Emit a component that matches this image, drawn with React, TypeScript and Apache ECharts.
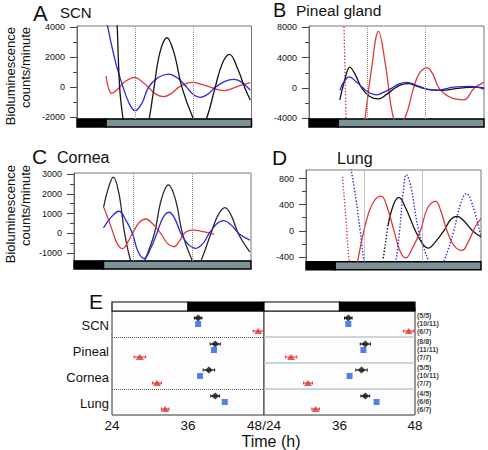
import React, { useEffect, useRef } from 'react';
import * as echarts from 'echarts';

const FONT = '"Liberation Sans", Arial, Helvetica, sans-serif';

// ---------- Panels A–D: time (h) vs bioluminescence (counts/minute) ----------
// Panel A – SCN
const scnBlack = [[15.8, 6500], [16.6, 4000], [17.6, 0], [18.9, -2000], [21, -4500], [24, -5800], [27, -4500], [29.9, -2000], [31.8, 0], [34.2, 2300], [37.1, 3290], [40, 2300], [43.3, 0], [47.8, -2000], [50.7, -2800], [53.6, -2000], [57, 0], [60, 1600], [62.9, 2190], [66.5, 1150], [69.3, -65], [71.5, -840]];
const scnBlue = [[12.2, 4400], [15.7, 1810], [18.9, 60], [21.5, -1050], [24, -1550], [26.8, -1050], [29.5, 0], [33.5, 650], [37.7, 880], [41.5, 620], [45.3, 0], [48, -480], [50.8, -660], [54, -450], [57, 0], [61, 400], [64.6, 530], [67.6, 380], [71.5, -180]];
const scnRed = [[12, 750], [12.9, 0], [14.3, -400], [16.4, -180], [20, 400], [24, 660], [27, 350], [29.5, 0], [32.5, -450], [35.7, -620], [39, -400], [41.9, 0], [45, 250], [47.8, 330], [51, 220], [55, 20], [58, -150], [61, -220], [64.5, -50], [68, 160], [71.5, 310]];
// Panel B – Pineal gland
const pinealBlack = [[12.7, -1550], [14.5, 800], [16.8, 2750], [19, 1800], [21.7, 0], [25, -1100], [28.6, -1420], [32, -800], [35.4, 0], [38, 450], [41, 580], [44, 300], [47.2, -50], [51, -250], [55.4, -300], [59, -150], [62.3, 0], [66, 100], [69.2, 130], [72, 0]];
const pinealBlue = [[12.7, -300], [14.5, 900], [16.6, 1470], [19.5, 800], [22.3, 0], [25, -650], [27.9, -890], [31, -500], [34.1, 0], [37, 550], [40.3, 750], [44, 400], [47.2, 0], [50, -250], [52.7, -300], [56, -100], [59.6, 130], [66.5, 220], [72, -130]];
const pinealRedStart = [[14.2, 11000], [15.4, -6000]];
const pinealRed = [[15.4, -6000], [18, -10000], [21, -8000], [23, -4100], [25.5, 2000], [28.6, 7460], [31.5, 3000], [34.8, -4000], [37.5, -4600], [40, -3500], [43, 0], [45.5, 2000], [48.6, 2660], [51, 1800], [53.5, 0], [58, -1200], [63.7, -1550], [68, 0], [72, 750]];
// Panel C – Cornea
const corneaBlack = [[12, 1300], [14, 2300], [16, 2840], [18.3, 2000], [20.6, 0], [23.1, -1400], [25.9, -2200], [28.7, -1400], [32.7, 0], [35.5, 1700], [38.4, 2450], [41.3, 1700], [44.1, 0], [48.2, -1400], [50, -1700], [51.6, -1400], [55.7, 0], [58.5, 900], [61.4, 1300], [64, 900], [66.8, 0], [71.5, -930]];
const corneaBlue = [[12, 280], [15, 800], [18.3, 1120], [21, 700], [23.8, 0], [26, -900], [28.5, -1270], [31, -800], [33.7, 0], [36.2, 800], [38.7, 1070], [41, 750], [43.5, 0], [46.5, -550], [49.6, -750], [52.5, -500], [55, 0], [58, 480], [60.8, 650], [64, 420], [67, 0], [71.5, -340]];
const corneaRed = [[12.2, 1290], [14, 700], [16, 0], [17.5, -500], [19.7, -770], [21.8, -450], [23.8, 0], [26.5, 550], [29.2, 730], [32.3, 450], [35.3, 0], [38, -500], [40.7, -670], [42.8, -400], [44.8, 0], [46.5, 130], [48.6, 170], [51.5, 120], [54, 50], [57, -50]];
// Panel D – Lung
const lungBlackStart = [[31.8, -420], [33.7, 75]];
const lungBlack = [[33.7, 75], [36, 400], [38.2, 510], [41, 350], [45, 0], [48, -200], [50.3, -265], [53, -180], [56.7, 0], [59.5, 170], [62.2, 220], [65, 150], [68.5, 0], [72, -95]];
const lungBlue = [[18.5, 950], [20.5, 500], [22.3, 0], [23.9, -470], [27, -1000], [31, -1200], [34, -900], [36.9, -470], [38.5, 0], [40, 600], [41.3, 860], [43, 700], [46.4, 0], [50.5, -470], [53.5, -700], [56.7, -470], [60.8, 0], [63.5, 400], [66, 570], [68.5, 400], [72, -90]];
const lungRedStart = [[15, 830], [16.4, 200], [17.8, -470], [19.5, -800]];
const lungRed = [[19.5, -800], [21.2, -470], [23.5, -50], [26, 300], [28.5, 480], [31, 530], [33.5, 350], [36.2, 0], [38.6, -300], [41, -415], [44, -250], [47.1, 0], [50, 350], [53.3, 455], [55.5, 300], [58, 0], [61, -230], [64.2, -300], [67, -150], [69.5, 50], [72, 190]];

const hourRange = [0, 72];
const dottedHours = [24, 48];
const ldPhases = [[0, 12, 1], [12, 72, 0]]; // [start, end, dark]

const ticksA = { majors: [-2000, 0, 2000, 4000], minors: [-1000, 1000, 3000], min: -2100, max: 4070 };
const ticksB = { majors: [-4000, 0, 4000, 8000], minors: [-2000, 2000, 6000], min: -4070, max: 8170 };
const ticksC = { majors: [-1000, 0, 1000, 2000, 3000], minors: [-500, 500, 1500, 2500], min: -1390, max: 3050 };
const ticksD = { majors: [-400, 0, 400, 800], minors: [-200, 200, 600], min: -472, max: 930 };

// ---------- Panel E: peak phases ----------
const tissues = ['SCN', 'Pineal', 'Cornea', 'Lung'];
const eHours = [24, 48];
const eLdPhases = [[24, 36, 0], [36, 48, 1]];
const leftBlack = [37.6, 40.3, 39.3, 40.3];
const leftBlackErr = [0.6, 0.8, 0.9, 0.7];
const leftBlue = [37.6, 40.1, 37.9, 41.8];
const leftRed = [47.1, 28.4, 31.1, 32.4];
const leftRedErr = [0.8, 0.9, 0.7, 0.6];
const rightBlack = [37.4, 40.1, 39.5, 40.1];
const rightBlackErr = [0.6, 0.8, 0.9, 0.7];
const rightBlue = [37.4, 39.8, 37.6, 41.9];
const rightRed = [47.0, 28.3, 31.0, 32.2];
const rightRedErr = [0.8, 0.9, 0.7, 0.6];
const nCounts = [
  ['(5/5)', '(10/11)', '(6/7)'],
  ['(8/8)', '(11/11)', '(7/7)'],
  ['(5/5)', '(10/11)', '(7/7)'],
  ['(4/5)', '(6/6)', '(6/7)'],
];

const BLACK = '#141414';
const BLUE = '#2a2ad6';
const RED = '#e0383a';
const E_BLUE = '#2362e2';
const E_RED = '#e4302e';
const LIGHT_BAR = '#7b9396';

function buildOption() {
  const grid: any[] = [];
  const xAxis: any[] = [];
  const yAxis: any[] = [];
  const series: any[] = [];

  const ldRender = (phases: number[][], lightFill: string, lw: number) => (params: any, api: any) => {
    const s = api.value(0), e = api.value(1);
    const dark = phases[params.dataIndex][2];
    const p0 = api.coord([s, 1]);
    const p1 = api.coord([e, 0]);
    return {
      type: 'rect',
      shape: { x: p0[0], y: p0[1], width: p1[0] - p0[0], height: p1[1] - p0[1] },
      style: { fill: dark ? '#000' : lightFill, stroke: '#000', lineWidth: lw },
    };
  };

  const panels = [
    { left: 77, top: 26, width: 174.5, height: 93, t: ticksA, lines: [[scnRed, RED, false], [scnBlue, BLUE, false], [scnBlack, BLACK, false]] },
    { left: 309, top: 26, width: 175, height: 93, t: ticksB, lines: [[pinealRed, RED, false], [pinealRedStart, RED, true], [pinealBlack, BLACK, false], [pinealBlue, BLUE, false]] },
    { left: 74, top: 173, width: 177, height: 88, t: ticksC, lines: [[corneaBlack, '#2a2a2a', false], [corneaRed, RED, false], [corneaBlue, BLUE, false]] },
    { left: 306, top: 170, width: 175, height: 91.7, t: ticksD, lines: [[lungBlack, BLACK, false], [lungBlackStart, BLACK, true], [lungRed, RED, false], [lungRedStart, RED, true], [lungBlue, BLUE, true]] },
  ];

  panels.forEach((p) => {
    const gi = grid.length;
    grid.push({ left: p.left, top: p.top, width: p.width, height: p.height, show: true, borderColor: '#777', borderWidth: 1, backgroundColor: 'transparent' });
    const xi = xAxis.length;
    xAxis.push({ type: 'value', gridIndex: gi, min: hourRange[0], max: hourRange[1], show: false });
    const yi = yAxis.length;
    yAxis.push({
      type: 'value', gridIndex: gi, min: p.t.min, max: p.t.max, position: 'left',
      axisLine: { show: true, lineStyle: { color: '#666', width: 1 } },
      axisTick: { show: true, length: 7, customValues: p.t.majors, lineStyle: { color: '#444' } },
      axisLabel: { customValues: p.t.majors, fontSize: 9, margin: 12, color: '#111', fontFamily: FONT, formatter: (v: number) => String(v) },
      splitLine: { show: false },
    });
    yAxis.push({
      type: 'value', gridIndex: gi, min: p.t.min, max: p.t.max, position: 'left', offset: 0,
      axisLine: { show: false },
      axisTick: { show: true, length: 4, customValues: p.t.minors, lineStyle: { color: '#444' } },
      axisLabel: { show: false },
      splitLine: { show: false },
    });
    p.lines.forEach(([data, color, dotted]: any, k: number) => {
      series.push({
        type: 'line', xAxisIndex: xi, yAxisIndex: yi, data, showSymbol: false, smooth: 0.4,
        clip: true, silent: true, lineStyle: { color, width: dotted ? 1.4 : 1.3, type: dotted ? [1.4, 1.8] : 'solid' },
        markLine: k === 0 ? {
          silent: true, symbol: 'none', label: { show: false },
          lineStyle: { type: 'dotted', color: '#8a8a8a', width: 1 },
          data: dottedHours.map((h) => ({ xAxis: h })),
        } : undefined,
      });
    });
    // light/dark bar under the plot
    const bgi = grid.length;
    grid.push({ left: p.left, top: p.top + p.height, width: p.width, height: 8, show: false });
    const bxi = xAxis.length;
    xAxis.push({ type: 'value', gridIndex: bgi, min: hourRange[0], max: hourRange[1], show: false });
    const byi = yAxis.length;
    yAxis.push({ type: 'value', gridIndex: bgi, min: 0, max: 1, show: false });
    series.push({
      type: 'custom', xAxisIndex: bxi, yAxisIndex: byi, silent: true,
      data: ldPhases.map((d) => [d[0], d[1], d[2]]),
      renderItem: ldRender(ldPhases, LIGHT_BAR, 1.5),
    });
  });

  // ---------- Panel E ----------
  const halves = [
    { left: 112, width: 152, black: leftBlack, blackErr: leftBlackErr, blue: leftBlue, red: leftRed, redErr: leftRedErr, isLeft: true },
    { left: 264, width: 151, black: rightBlack, blackErr: rightBlackErr, blue: rightBlue, red: rightRed, redErr: rightRedErr, isLeft: false },
  ];
  const eTop = 311, eHeight = 104;
  const ROW_BLACK = 0.27, ROW_BLUE = 0.5, ROW_RED = 0.77;
  const errRender = (color: string) => (params: any, api: any) => {
    const x = api.value(0), y = api.value(1), e = api.value(2);
    const a = api.coord([x - e, y]);
    const b = api.coord([x + e, y]);
    const st = { stroke: color, lineWidth: 1 };
    return {
      type: 'group', children: [
        { type: 'line', shape: { x1: a[0], y1: a[1], x2: b[0], y2: b[1] }, style: st },
        { type: 'line', shape: { x1: a[0], y1: a[1] - 1.5, x2: a[0], y2: a[1] + 1.5 }, style: st },
        { type: 'line', shape: { x1: b[0], y1: b[1] - 1.5, x2: b[0], y2: b[1] + 1.5 }, style: st },
      ],
    };
  };

  halves.forEach((h) => {
    // top light/dark bar
    const tgi = grid.length;
    grid.push({ left: h.left, top: 302, width: h.width, height: 9, show: false });
    const txi = xAxis.length;
    xAxis.push({ type: 'value', gridIndex: tgi, min: eHours[0], max: eHours[1], show: false });
    const tyi = yAxis.length;
    yAxis.push({ type: 'value', gridIndex: tgi, min: 0, max: 1, show: false });
    series.push({
      type: 'custom', xAxisIndex: txi, yAxisIndex: tyi, silent: true,
      data: eLdPhases.map((d) => [d[0], d[1], d[2]]),
      renderItem: ldRender(eLdPhases, '#fff', 1.2),
    });

    const gi = grid.length;
    grid.push({ left: h.left, top: eTop, width: h.width, height: eHeight, show: true, borderColor: '#333', borderWidth: 1, backgroundColor: '#fdfdfd' });
    const xi = xAxis.length;
    xAxis.push({
      type: 'value', gridIndex: gi, min: eHours[0], max: eHours[1], interval: 12,
      axisLine: { show: false },
      axisTick: { show: true, inside: true, length: 3, lineStyle: { color: '#777' } },
      minorTick: { show: true, splitNumber: 4, length: 2, lineStyle: { color: '#aaa' } },
      axisLabel: {
        fontSize: 13.5, margin: 3, color: '#111', fontFamily: FONT,
        formatter: h.isLeft ? (v: number) => (v === 48 ? '48/24' : String(v)) : (v: number) => (v === 24 ? '' : String(v)),
      },
      splitLine: { show: false },
    });
    const yi = yAxis.length;
    yAxis.push({
      type: 'value', gridIndex: gi, min: 0, max: tissues.length, inverse: true,
      axisLine: { show: false }, axisTick: { show: false }, splitLine: { show: false },
      axisLabel: h.isLeft ? {
        show: true, customValues: tissues.map((_, i) => i + 0.55), fontSize: 13, margin: 3, color: '#111', fontFamily: FONT,
        formatter: (v: number) => tissues[Math.floor(v)] ?? '',
      } : { show: false },
    });

    series.push({
      type: 'custom', xAxisIndex: xi, yAxisIndex: yi, silent: true,
      data: tissues.map((_, i) => [h.black[i], i + ROW_BLACK, h.blackErr[i]]),
      renderItem: errRender('#111'),
      markLine: {
        silent: true, symbol: 'none', label: { show: false },
        lineStyle: h.isLeft ? { type: 'dotted', color: '#555', width: 1 } : { type: 'solid', color: '#b7c7d5', width: 1.5 },
        data: (h.isLeft ? [1, 3] : [1, 2, 3]).map((v) => ({ yAxis: v })),
      },
    });
    series.push({
      type: 'custom', xAxisIndex: xi, yAxisIndex: yi, silent: true,
      data: tissues.map((_, i) => [h.red[i], i + ROW_RED, h.redErr[i]]),
      renderItem: errRender(E_RED),
    });
    series.push({
      type: 'scatter', xAxisIndex: xi, yAxisIndex: yi, silent: true, symbol: 'diamond', symbolSize: [8, 7],
      itemStyle: { color: '#111' }, data: tissues.map((_, i) => [h.black[i], i + ROW_BLACK]),
    });
    series.push({
      type: 'scatter', xAxisIndex: xi, yAxisIndex: yi, silent: true, symbol: 'rect', symbolSize: 6,
      itemStyle: { color: E_BLUE }, data: tissues.map((_, i) => [h.blue[i], i + ROW_BLUE]),
    });
    series.push({
      type: 'scatter', xAxisIndex: xi, yAxisIndex: yi, silent: true, symbol: 'triangle', symbolSize: [8, 6],
      itemStyle: { color: E_RED }, data: tissues.map((_, i) => [h.red[i], i + ROW_RED]),
    });
    if (!h.isLeft) {
      // one three-line label per tissue group, anchored to the group's middle row
      const data = nCounts.map((group, g) => ({ value: [eHours[1], g + 0.47], label: { formatter: group.join('\n') } }));
      series.push({
        type: 'scatter', xAxisIndex: xi, yAxisIndex: yi, silent: true, symbolSize: 0, clip: false,
        itemStyle: { color: '#000' },
        label: { show: true, position: 'right', distance: 2, fontSize: 7, fontWeight: 'bold', lineHeight: 8.2, color: '#000', fontFamily: FONT },
        labelLayout: { hideOverlap: false },
        data,
      });
    }
  });

  const txt = (text: string, x: number, y: number, size: number, extra: any = {}) => ({
    type: 'text', x, y, silent: true,
    style: { text, fontSize: size, fontFamily: FONT, fill: '#111', align: 'left', verticalAlign: 'middle', ...extra },
  });

  const graphic = [
    txt('A', 33, 13.5, 22),
    txt('SCN', 60, 12.5, 15),
    txt('B', 273, 10, 20),
    txt('Pineal gland', 296, 10.5, 15.5),
    txt('C', 32, 156.5, 21),
    txt('Cornea', 57, 157.5, 16),
    txt('D', 272, 157.5, 21),
    txt('Lung', 337, 158.5, 16),
    txt('E', 89, 301, 21),
    txt('Time (h)', 271, 441, 16, { align: 'center' }),
    { type: 'text', x: 3, y: 27, rotation: Math.PI / 2, silent: true, style: { text: 'Bioluminescence\ncounts/minute', fontSize: 13, lineHeight: 15, fontFamily: FONT, fill: '#111', align: 'right', verticalAlign: 'top' } },
    { type: 'text', x: 3, y: 165, rotation: Math.PI / 2, silent: true, style: { text: 'Bioluminescence\ncounts/minute', fontSize: 13, lineHeight: 15, fontFamily: FONT, fill: '#111', align: 'right', verticalAlign: 'top' } },
  ];

  return { animation: false, backgroundColor: '#fff', grid, xAxis, yAxis, series, graphic };
}

export default function App() {
  const ref = useRef<HTMLDivElement>(null);
  useEffect(() => {
    if (!ref.current) return;
    const chart = echarts.init(ref.current, null, { renderer: 'svg' });
    chart.setOption(buildOption() as any);
    return () => chart.dispose();
  }, []);
  return <div ref={ref} style={{ position: 'absolute', left: 0, top: 0, width: 488, height: 450 }} />;
}
